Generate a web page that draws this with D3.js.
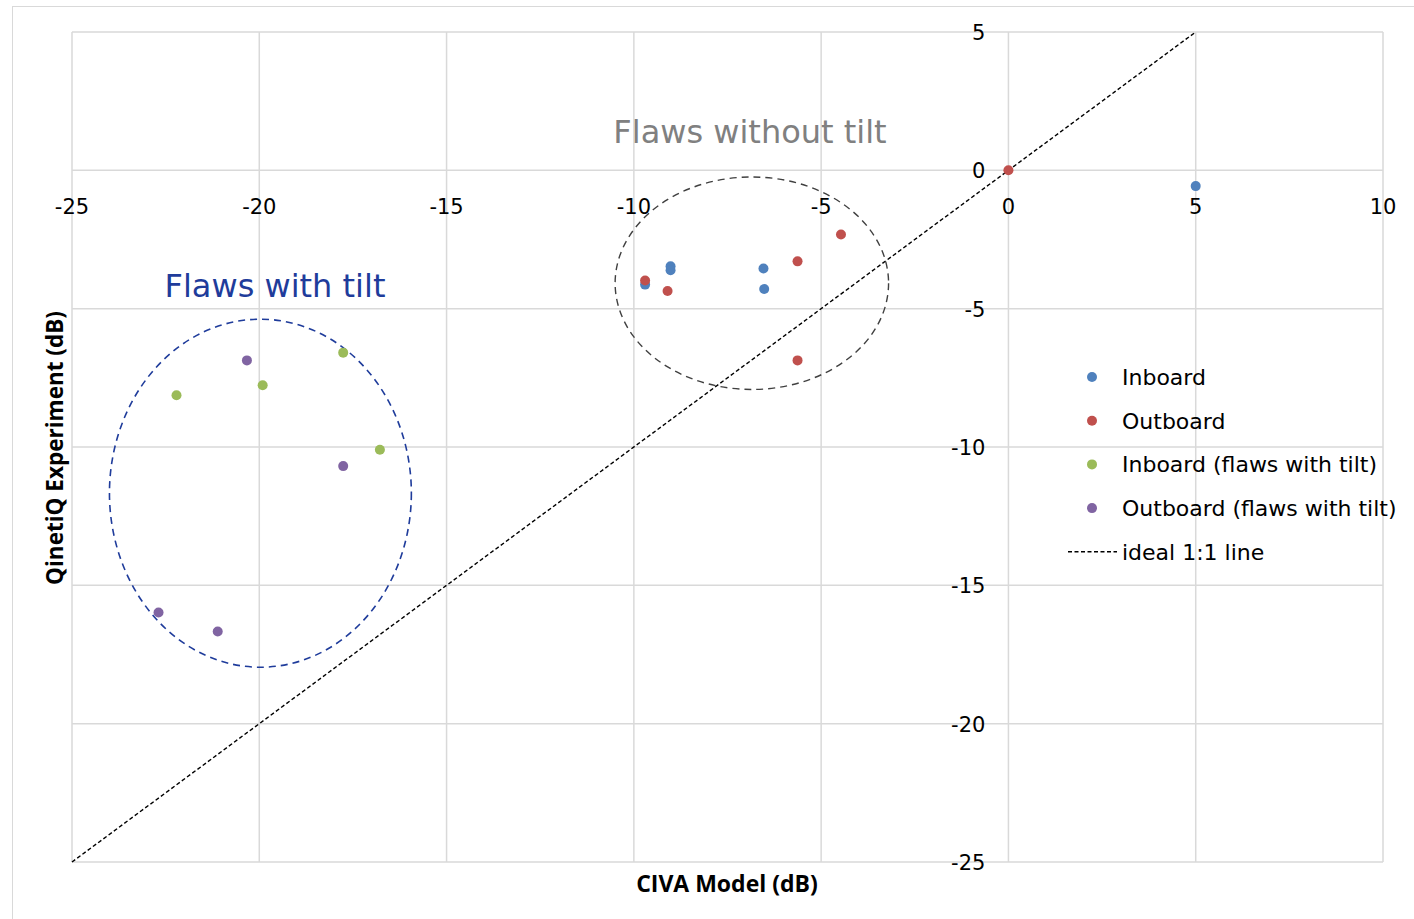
<!DOCTYPE html>
<html>
<head>
<meta charset="utf-8">
<script src="https://cdn.jsdelivr.net/npm/d3@7"></script>
<style>
  body { margin: 0; background: #fff; }
  svg { display: block; }
</style>
</head>
<body>
<script>
// series values: [CIVA model, QinetiQ experiment]
var inboard = [[-9.70, -4.13], [-9.02, -3.47], [-9.02, -3.61], [-6.54, -3.55], [-6.52, -4.29], [5.0, -0.57]];
var outboard = [[-9.70, -3.98], [-9.10, -4.36], [-5.63, -3.29], [-4.47, -2.32], [-5.63, -6.87], [0, 0]];
var inboardTilt = [[-17.76, -6.59], [-19.91, -7.77], [-22.21, -8.13], [-16.78, -10.10]];
var outboardTilt = [[-20.33, -6.87], [-17.76, -10.69], [-22.69, -15.98], [-21.11, -16.67]];
var idealLine = [[-25, -25], [5, 5]];

var xTicks = [-25, -20, -15, -10, -5, 0, 5, 10];
var yTicks = [5, 0, -5, -10, -15, -20, -25];

var seriesNames = ["Inboard", "Outboard", "Inboard (flaws with tilt)", "Outboard (flaws with tilt)"];
var seriesColors = ["#4f81bd", "#c0504d", "#9bbb59", "#8064a2"];

function init() {
    var w = 1414, h = 919;
    var left = 72, right = 1383, top = 32, bottom = 862;

    var svg = d3.select("body").append("svg")
        .attr("width", w)
        .attr("height", h);

    // outer chart frame
    svg.append("rect")
        .attr("x", 12.5).attr("y", 6.5)
        .attr("width", w).attr("height", h)
        .attr("fill", "none")
        .attr("stroke", "#d9d9d9");

    var x = d3.scaleLinear().domain([-25, 10]).range([left, right]);
    var y = d3.scaleLinear().domain([-25, 5]).range([bottom, top]);

    // grid
    svg.append("g").selectAll("line").data(xTicks).enter().append("line")
        .attr("x1", function(d){ return x(d); }).attr("x2", function(d){ return x(d); })
        .attr("y1", top).attr("y2", bottom)
        .attr("stroke", "#d9d9d9").attr("stroke-width", 1.5);
    svg.append("g").selectAll("line").data(yTicks).enter().append("line")
        .attr("y1", function(d){ return y(d); }).attr("y2", function(d){ return y(d); })
        .attr("x1", left).attr("x2", right)
        .attr("stroke", "#d9d9d9").attr("stroke-width", 1.5);

    // tick labels sit on the zero axes
    var font = "DejaVu Sans, Verdana, sans-serif";
    svg.append("g").selectAll("text").data(xTicks).enter().append("text")
        .attr("x", function(d){ return x(d); })
        .attr("y", y(0) + 44)
        .attr("text-anchor", "middle")
        .style("font-family", font).style("font-size", "21px")
        .attr("fill", "#000")
        .text(function(d){ return d; });
    svg.append("g").selectAll("text").data(yTicks).enter().append("text")
        .attr("x", x(0) - 23)
        .attr("y", function(d){ return y(d) + 8; })
        .attr("text-anchor", "end")
        .style("font-family", font).style("font-size", "21px")
        .attr("fill", "#000")
        .text(function(d){ return d; });

    // ideal 1:1 line
    svg.append("path")
        .attr("d", d3.line().x(function(d){ return x(d[0]); }).y(function(d){ return y(d[1]); })(idealLine))
        .attr("fill", "none")
        .attr("stroke", "#000")
        .attr("stroke-width", 1.4)
        .attr("stroke-dasharray", "4,2.5");

    // annotation ellipses
    svg.append("ellipse")
        .attr("cx", x(-19.97)).attr("cy", y(-11.67))
        .attr("rx", x(4.03) - x(0)).attr("ry", y(0) - y(6.29))
        .attr("fill", "none").attr("stroke", "#1f3c9b")
        .attr("stroke-width", 1.6).attr("stroke-dasharray", "7,5");
    svg.append("ellipse")
        .attr("cx", x(-6.85)).attr("cy", y(-4.08))
        .attr("rx", x(3.65) - x(0)).attr("ry", y(0) - y(3.84))
        .attr("fill", "none").attr("stroke", "#404040")
        .attr("stroke-width", 1.4).attr("stroke-dasharray", "7,5");

    svg.append("text")
        .attr("x", 750).attr("y", 143)
        .attr("text-anchor", "middle")
        .style("font-family", font).style("font-size", "32px")
        .attr("fill", "#808080")
        .text("Flaws without tilt");
    svg.append("text")
        .attr("x", 275).attr("y", 297)
        .attr("text-anchor", "middle")
        .style("font-family", font).style("font-size", "32px")
        .attr("fill", "#1f3c9b")
        .text("Flaws with tilt");

    // points
    var allSeries = [inboard, outboard, inboardTilt, outboardTilt];
    allSeries.forEach(function(data, i){
        svg.append("g").selectAll("circle").data(data).enter().append("circle")
            .attr("cx", function(d){ return x(d[0]); })
            .attr("cy", function(d){ return y(d[1]); })
            .attr("r", 5)
            .attr("fill", seriesColors[i]);
    });

    // axis titles
    svg.append("text")
        .attr("transform", "translate(63,448) rotate(-90)")
        .attr("text-anchor", "middle")
        .style("font-family", "Open Sans, sans-serif").style("font-size", "22.5px")
        .style("font-weight", "bold")
        .text("QinetiQ Experiment (dB)");
    svg.append("text")
        .attr("x", 727).attr("y", 892)
        .attr("text-anchor", "middle")
        .style("font-family", "Open Sans, sans-serif").style("font-size", "23px")
        .style("font-weight", "bold")
        .text("CIVA Model (dB)");

    // legend
    var legend = svg.append("g");
    seriesNames.forEach(function(name, i){
        var ly = 377 + i * 43.7;
        legend.append("circle").attr("cx", 1092).attr("cy", ly).attr("r", 5).attr("fill", seriesColors[i]);
        legend.append("text").attr("x", 1122).attr("y", ly + 8)
            .style("font-family", font).style("font-size", "22px")
            .text(name);
    });
    var ly = 377 + 4 * 43.7;
    legend.append("line")
        .attr("x1", 1068).attr("x2", 1117).attr("y1", ly).attr("y2", ly)
        .attr("stroke", "#000").attr("stroke-width", 1.4).attr("stroke-dasharray", "4,2.5");
    legend.append("text").attr("x", 1122).attr("y", ly + 8)
        .style("font-family", font).style("font-size", "22px")
        .text("ideal 1:1 line");
}
window.onload = init;
</script>
</body>
</html>
